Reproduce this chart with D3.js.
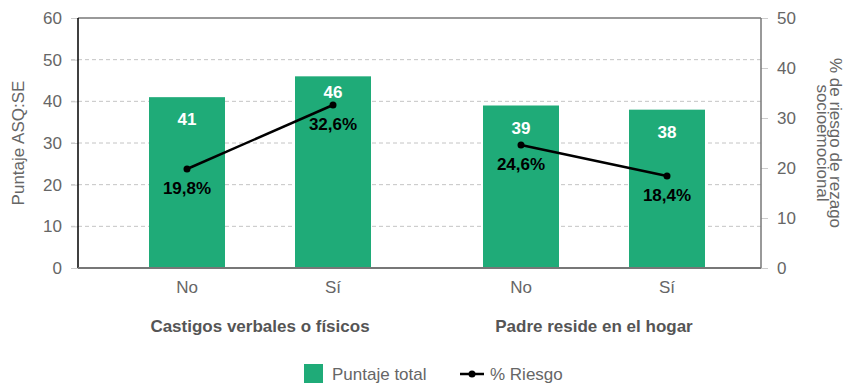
<!DOCTYPE html>
<html><head><meta charset="utf-8">
<script src="https://cdn.jsdelivr.net/npm/d3@7"></script>
<style>body{margin:0;background:#fff}svg{font-family:"Liberation Sans",Arial,sans-serif}</style>
</head><body><svg id="c" width="846" height="383"></svg>
<script>
const groups = ["Castigos verbales o físicos", "Padre reside en el hogar"];
const categories = ["No", "Sí"];
const puntaje = [[41, 46], [39, 38]];
const riesgo = [[19.8, 32.6], [24.6, 18.4]];
const leftTicks = [0, 10, 20, 30, 40, 50, 60];
const rightTicks = [0, 10, 20, 30, 40, 50];

const svg = d3.select("#c");
const L = 78, R = 761, T = 18, B = 268;
const yL = d3.scaleLinear().domain([0, 60]).range([B, T]);
const yR = d3.scaleLinear().domain([0, 50]).range([B, T]);
const xG = d3.scaleBand().domain(groups).range([93, R]).padding(0);
const bw = 76, st = 146;
const pi = 1 - bw / st, po = (xG.bandwidth() / st - 2 + pi) / 2;
const xC = d3.scaleBand().domain(categories).range([0, xG.bandwidth()]).paddingInner(pi).paddingOuter(po);
const green = "#1fab78", gray = "#666";
const FS = "17px";

// grid
svg.append("g").selectAll("line").data(leftTicks.filter(d => d > 0 && d < 60)).join("line")
  .attr("x1", 71).attr("x2", R).attr("y1", d => yL(d)).attr("y2", d => yL(d))
  .attr("stroke", "#c4c4c4").attr("stroke-dasharray", "4,3").attr("stroke-width", 1);

// left axis
const ga = svg.append("g").attr("transform", `translate(${L},0)`)
  .call(d3.axisLeft(yL).tickValues(leftTicks).tickSize(7).tickPadding(9));
ga.select(".domain").remove();
ga.selectAll(".tick line").attr("stroke", "#ccc");
ga.selectAll("text").attr("fill", gray).style("font-size", FS);

// right axis
const gr = svg.append("g").attr("transform", `translate(${R},0)`)
  .call(d3.axisRight(yR).tickValues(rightTicks).tickSize(7).tickPadding(9));
gr.select(".domain").remove();
gr.selectAll(".tick line").attr("stroke", "#ccc");
gr.selectAll("text").attr("fill", gray).style("font-size", FS);

// bars
groups.forEach((g, gi) => {
  const gg = svg.append("g").attr("transform", `translate(${xG(g)},0)`);
  gg.selectAll("rect").data(categories).join("rect")
    .attr("x", c => xC(c)).attr("width", xC.bandwidth())
    .attr("y", (c, i) => yL(puntaje[gi][i])).attr("height", (c, i) => B - yL(puntaje[gi][i]))
    .attr("fill", green);
  gg.selectAll("text.v").data(categories).join("text").attr("class", "v")
    .attr("x", c => xC(c) + xC.bandwidth() / 2)
    .attr("y", (c, i) => Math.min(yL(puntaje[gi][i]) + 28, yR(riesgo[gi][i]) - 7))
    .attr("text-anchor", "middle").attr("fill", "#fff").attr("font-weight", "bold")
    .style("font-size", FS).text((c, i) => puntaje[gi][i]);
  gg.selectAll("text.c").data(categories).join("text").attr("class", "c")
    .attr("x", c => xC(c) + xC.bandwidth() / 2).attr("y", 293)
    .attr("text-anchor", "middle").attr("fill", gray).style("font-size", FS).text(c => c);
  svg.append("text").attr("x", xG(g) + xG.bandwidth() / 2).attr("y", 332)
    .attr("text-anchor", "middle").attr("fill", "#555").attr("font-weight", "bold")
    .style("font-size", FS).text(g);
  const pts = categories.map((c, i) => [xC(c) + xC.bandwidth() / 2, yR(riesgo[gi][i]), riesgo[gi][i]]);
  gg.append("path").attr("d", d3.line()(pts.map(p => [p[0], p[1]])))
    .attr("stroke", "#000").attr("stroke-width", 2.5).attr("fill", "none");
  gg.selectAll("circle").data(pts).join("circle").attr("cx", p => p[0]).attr("cy", p => p[1]).attr("r", 3.5).attr("fill", "#000");
  gg.selectAll("text.p").data(pts).join("text").attr("class", "p")
    .attr("x", p => p[0]).attr("y", p => p[1] + 25)
    .attr("text-anchor", "middle").attr("fill", "#000").attr("font-weight", "bold")
    .style("font-size", FS).text(p => d3.format(".1f")(p[2]).replace(".", ",") + "%");
});

// frame lines
svg.append("line").attr("x1", L).attr("x2", R).attr("y1", T).attr("y2", T).attr("stroke", "#777").attr("stroke-width", 1.5);
svg.append("line").attr("x1", R).attr("x2", R).attr("y1", T).attr("y2", B).attr("stroke", "#777").attr("stroke-width", 1.5);
svg.append("line").attr("x1", L).attr("x2", L).attr("y1", T).attr("y2", B).attr("stroke", "#000").attr("stroke-width", 1.5);
svg.append("line").attr("x1", L).attr("x2", R).attr("y1", B).attr("y2", B).attr("stroke", "#777").attr("stroke-width", 2);

// axis titles
svg.append("text").attr("transform", `translate(24,${(T + B) / 2}) rotate(-90)`)
  .attr("text-anchor", "middle").attr("fill", gray).style("font-size", FS).text("Puntaje ASQ:SE");
const rt = svg.append("text").attr("transform", `translate(830,${(T + B) / 2}) rotate(90)`)
  .attr("text-anchor", "middle").attr("fill", gray).style("font-size", FS);
rt.append("tspan").attr("x", 0).attr("dy", "0").text("% de riesgo de rezago");
rt.append("tspan").attr("x", 0).attr("dy", "13").text("socioemocional");

// legend
svg.append("rect").attr("x", 304).attr("y", 364).attr("width", 19).attr("height", 19).attr("fill", green);
svg.append("text").attr("x", 332).attr("y", 380).attr("fill", gray).style("font-size", FS).text("Puntaje total");
svg.append("line").attr("x1", 460).attr("x2", 484).attr("y1", 374).attr("y2", 374).attr("stroke", "#000").attr("stroke-width", 2.5);
svg.append("circle").attr("cx", 472).attr("cy", 374).attr("r", 3.5).attr("fill", "#000");
svg.append("text").attr("x", 490).attr("y", 380).attr("fill", gray).style("font-size", FS).text("% Riesgo");
</script></body></html>
